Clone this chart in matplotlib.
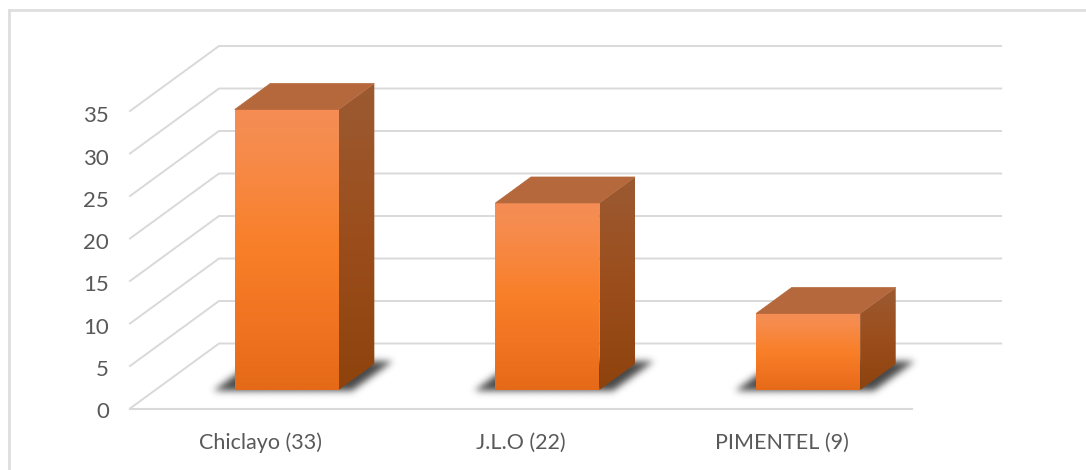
import numpy as np
import matplotlib
matplotlib.use("Agg")
import matplotlib.pyplot as plt
from matplotlib.patches import Polygon
from matplotlib.path import Path
from matplotlib.colors import LinearSegmentedColormap

categories = ["Chiclayo (33)", "J.L.O (22)", "PIMENTEL (9)"]
values = [33, 22, 9]
y_ticks = [0, 5, 10, 15, 20, 25, 30, 35]

# x unit = one category (260.7 px), y unit = one value (8.5 px)
PX_X = 260.7
PX_Y = 8.5
FLOOR_LEFT = 130.0
FLOOR_Y = 408.5
DEPTH_X = 89.0 / PX_X
DEPTH_Y = 65.0 / PX_Y
HALF_W = 52.0 / PX_X
BAR_SHIFT = 1.0 / PX_X
D_FRONT = 0.285
D_BACK = 0.685

GRID = "#d9d9d9"
TEXT = "#595959"

front_cmap = LinearSegmentedColormap.from_list(
    "front", [(0, "#f48d55"), (0.12, "#f68c4e"), (0.5, "#f97f28"), (0.8, "#ef7220"), (1, "#e56a18")])
side_cmap = LinearSegmentedColormap.from_list(
    "side", [(0, "#9c5a32"), (0.5, "#9b4e1c"), (1, "#8e430d")])


def project(x, v, d):
    return x + d * DEPTH_X, v + d * DEPTH_Y


def gradient_poly(ax, pts, cmap, zorder):
    pts = np.array(pts)
    grad = np.linspace(0, 1, 128).reshape(-1, 1)
    im = ax.imshow(grad, cmap=cmap, aspect="auto", zorder=zorder, vmin=0, vmax=1,
                   extent=(pts[:, 0].min(), pts[:, 0].max(), pts[:, 1].min(), pts[:, 1].max()))
    poly = Polygon(pts, closed=True, transform=ax.transData, fc="none", ec="none")
    ax.add_patch(poly)
    im.set_clip_path(poly)


def blurred_shadow(ax, pts, sigma_px=3.5, pad_px=16):
    # rasterise the polygon on a pixel grid and blur it
    pts = np.array(pts)
    x0, x1 = pts[:, 0].min() - pad_px / PX_X, pts[:, 0].max() + pad_px / PX_X
    y0, y1 = pts[:, 1].min() - pad_px / PX_Y, pts[:, 1].max() + pad_px / PX_Y
    nx = int((x1 - x0) * PX_X)
    ny = int((y1 - y0) * PX_Y)
    xs = np.linspace(x0, x1, nx)
    ys = np.linspace(y1, y0, ny)
    gx, gy = np.meshgrid(xs, ys)
    mask = Path(pts).contains_points(np.c_[gx.ravel(), gy.ravel()]).reshape(gx.shape).astype(float)
    r = np.arange(-12, 13)
    kernel = np.exp(-r ** 2 / (2 * sigma_px ** 2))
    kernel /= kernel.sum()
    mask = np.apply_along_axis(lambda c: np.convolve(c, kernel, mode="same"), 0, mask)
    mask = np.apply_along_axis(lambda c: np.convolve(c, kernel, mode="same"), 1, mask)
    rgba = np.zeros(mask.shape + (4,))
    rgba[..., :3] = 0.2
    rgba[..., 3] = mask * 0.9
    ax.imshow(rgba, aspect="auto", extent=(x0, x1, y0, y1), zorder=2, interpolation="bilinear")


def main():
    fig = plt.figure(figsize=(10.86, 4.70), dpi=100)
    ax = fig.add_axes([0, 0, 1, 1])
    xlim = (-FLOOR_LEFT / PX_X, (1086 - FLOOR_LEFT) / PX_X)
    ylim = ((FLOOR_Y - 470) / PX_Y, FLOOR_Y / PX_Y)
    ax.axis("off")

    # outer frame, only top and left show
    fig.add_artist(plt.Line2D([9 / 1086, 9 / 1086], [0, 1 - 10 / 470], color="#dedede", lw=2))
    fig.add_artist(plt.Line2D([9 / 1086, 1], [1 - 10 / 470, 1 - 10 / 470], color="#dedede", lw=2))

    # walls and floor
    n = len(categories)
    for v in y_ticks:
        bx, by = project(0, v, 1)
        ex, ey = project(n, v, 1)
        ax.plot([0, bx, ex], [v, by, ey], color=GRID, lw=1.4, zorder=1, solid_joinstyle="miter")
    ax.plot([0, n], [0, 0], color=GRID, lw=1.5, zorder=1)

    for i, val in enumerate(values):
        center = i + 0.5
        left = center - HALF_W + BAR_SHIFT
        right = center + HALF_W + BAR_SHIFT

        # soft shadow on the floor
        sl, sr = left - 20 / PX_X, right + 15 / PX_X
        blurred_shadow(ax, [project(sl, 0, 0.27), project(sr, 0, 0.27),
                            project(sr, 0, 0.73), project(sl, 0, 0.73)])

        fl0 = project(left, 0, D_FRONT)
        fr0 = project(right, 0, D_FRONT)
        fl1 = project(left, val, D_FRONT)
        fr1 = project(right, val, D_FRONT)
        br0 = project(right, 0, D_BACK)
        br1 = project(right, val, D_BACK)
        bl1 = project(left, val, D_BACK)

        # side, front and top faces
        gradient_poly(ax, [fr0, br0, br1, fr1], side_cmap, 3)
        gradient_poly(ax, [fl0, fr0, fr1, fl1], front_cmap, 4)
        ax.add_patch(Polygon([fl1, fr1, br1, bl1], closed=True, fc="#b5683c", ec="#b5683c",
                             lw=0.5, zorder=5))

        ax.text(center, -4.0, categories[i], ha="center", va="center", color=TEXT,
                fontsize=15.5, family="Lato")

    for v in y_ticks:
        ax.text(-21 / PX_X, v * 0.995 - 0.45, str(v), ha="right", va="center", color=TEXT,
                fontsize=16, family="Lato")

    ax.set_xlim(*xlim)
    ax.set_ylim(*ylim)
    fig.savefig("out.png", dpi=100)


if __name__ == "__main__":
    main()
